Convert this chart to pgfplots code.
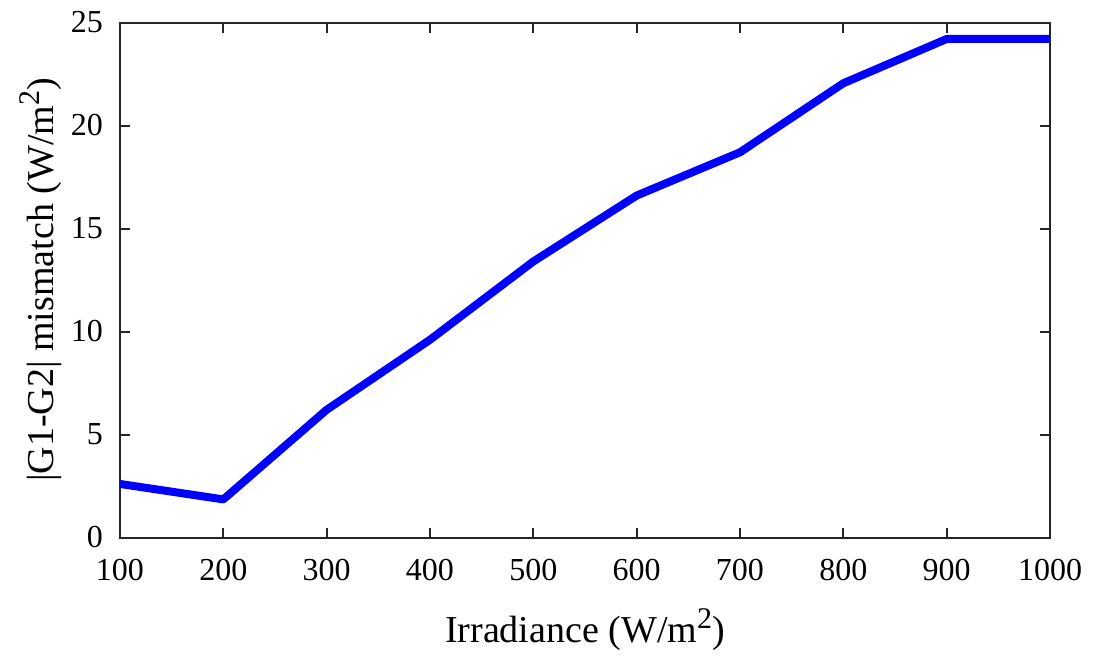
\documentclass[border=0pt]{standalone}
\usepackage{fontspec}
\setmainfont{Liberation Serif}
\usepackage{pgfplots}
\pgfplotsset{compat=1.18}
\newcommand{\sqr}{\raisebox{7pt}{\fontsize{15}{15}\selectfont 2}}
\begin{document}
\begin{tikzpicture}
\useasboundingbox (-60pt,-61.75pt) rectangle (489pt,268.75pt);
\begin{axis}[
  at={(0,0)}, anchor=south west,
  scale only axis, width=465pt, height=257.5pt,
  xmin=100, xmax=1000, ymin=0, ymax=25,
  xtick={100,200,...,1000}, ytick={0,5,...,25},
  tick align=inside, major tick length=5pt,
  axis line style={line width=1pt, black!85},
  every tick/.style={line width=1pt, black!85},
  tick label style={font=\fontsize{16}{19}\selectfont},
  xticklabel style={yshift=-7.5pt},
  yticklabel style={xshift=-5pt},
  label style={font=\fontsize{19}{22}\selectfont},
  /pgf/number format/assume math mode=true,
  /pgf/number format/1000 sep={},
  xlabel={Irradiance (W/m\sqr)},
  ylabel={|G1-G2| mismatch (W/m\sqr)},
  xlabel style={yshift=-7pt},
  ylabel style={yshift=-2.5pt},
  scaled ticks=false,
]
\addplot[color=blue, line width=4pt, line join=round] coordinates {
(100,2.6) (200,1.85) (300,6.2) (400,9.6) (500,13.4) (600,16.6) (700,18.7) (800,22.05) (900,24.2) (1000,24.2)
};
\end{axis}
\end{tikzpicture}
\end{document}
